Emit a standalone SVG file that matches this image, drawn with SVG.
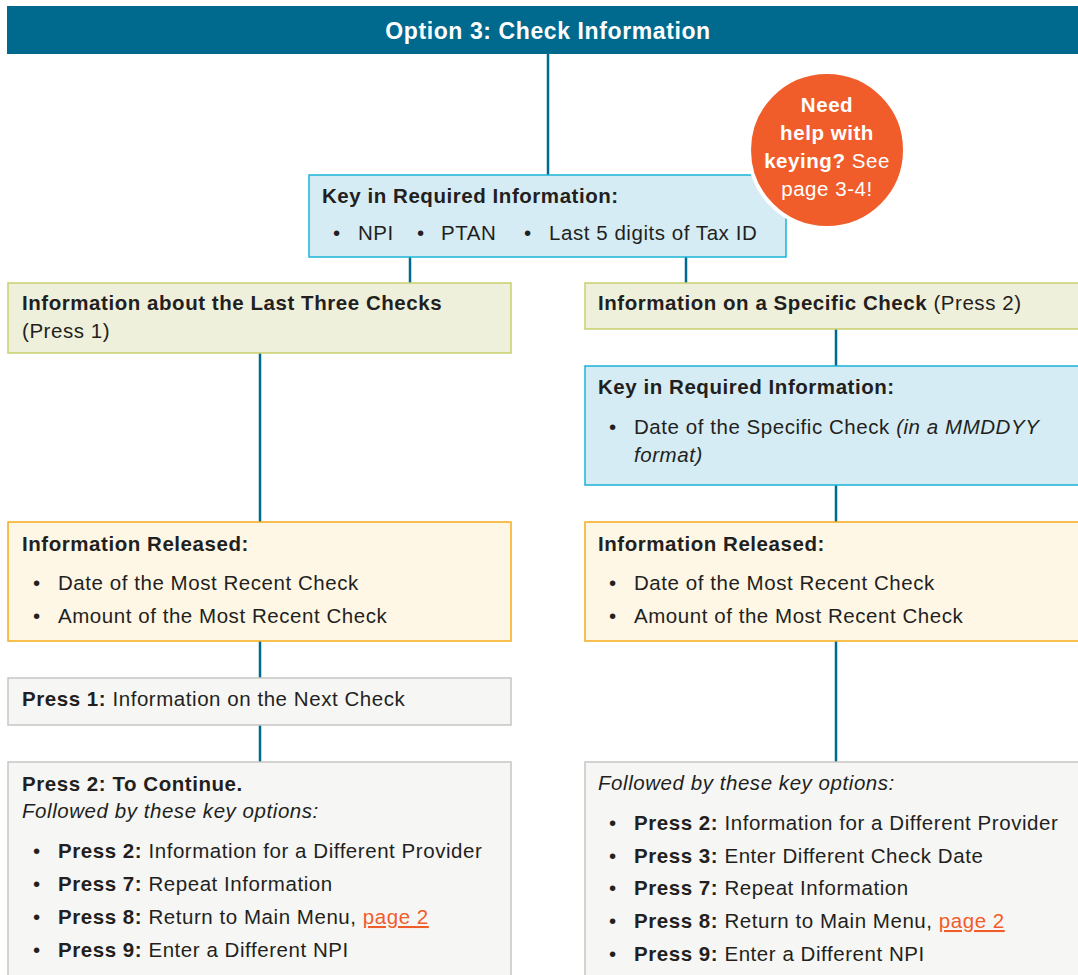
<svg xmlns="http://www.w3.org/2000/svg" width="1078" height="975" viewBox="0 0 1078 975">
<style>
text{font-family:"Liberation Sans",Arial,sans-serif;font-size:20.5px;letter-spacing:0.55px;fill:#231f20}
.b{font-weight:bold}
.i{font-style:italic}
.link{fill:#f15d2a;text-decoration:underline}
.conn{stroke:#006a8e;stroke-width:2.5;fill:none}
.blue{fill:#d5ecf4;stroke:#1ab4d6;stroke-width:1.5}
.olive{fill:#eff0dc;stroke:#c8cf6c;stroke-width:1.5}
.orange{fill:#fef7e6;stroke:#f5ac1e;stroke-width:1.5}
.grey{fill:#f6f6f4;stroke:#c8c6c4;stroke-width:1.5}
</style>
<rect width="1078" height="975" fill="#ffffff"/>
<g id="connectors">
<line class="conn" x1="548" y1="54" x2="548" y2="176"/>
<line class="conn" x1="410" y1="257" x2="410" y2="284"/>
<line class="conn" x1="686" y1="257" x2="686" y2="284"/>
<line class="conn" x1="260" y1="353" x2="260" y2="523"/>
<line class="conn" x1="836" y1="329" x2="836" y2="367"/>
<line class="conn" x1="836" y1="485" x2="836" y2="523"/>
<line class="conn" x1="260" y1="641" x2="260" y2="679"/>
<line class="conn" x1="260" y1="725" x2="260" y2="763"/>
<line class="conn" x1="836" y1="641" x2="836" y2="763"/>
</g>
<g id="header">
<rect x="7" y="6" width="1075" height="48" fill="#006a8e"/>
<text x="548" y="39" text-anchor="middle" class="b" style="fill:#ffffff;font-size:23px;letter-spacing:0.6px">Option 3: Check Information</text>
</g>
<g id="key-required">
<rect class="blue" x="309" y="175" width="477" height="82"/>
<text x="322" y="203" class="b">Key in Required Information:</text>
<text x="333" y="240">•</text><text x="358" y="240">NPI</text>
<text x="417" y="240">•</text><text x="441" y="240">PTAN</text>
<text x="524" y="240">•</text><text x="549" y="240">Last 5 digits of Tax ID</text>
</g>
<g id="help-badge">
<circle cx="827" cy="150" r="78" fill="#f15d2a" stroke="#ffffff" stroke-width="4"/>
<text x="827" y="112" text-anchor="middle" class="b" style="fill:#ffffff">Need</text>
<text x="827" y="140" text-anchor="middle" class="b" style="fill:#ffffff">help with</text>
<text x="827" y="168" text-anchor="middle" style="fill:#ffffff"><tspan class="b" style="fill:#ffffff">keying?</tspan> See</text>
<text x="827" y="196" text-anchor="middle" style="fill:#ffffff">page 3-4!</text>
</g>
<g id="last-three">
<rect class="olive" x="8" y="283" width="503" height="70"/>
<text x="22" y="310" class="b">Information about the Last Three Checks</text>
<text x="22" y="338">(Press 1)</text>
</g>
<g id="specific-check">
<rect class="olive" x="585" y="283" width="500" height="46"/>
<text x="598" y="310"><tspan class="b">Information on a Specific Check</tspan> (Press 2)</text>
</g>
<g id="key-date">
<rect class="blue" x="585" y="366" width="500" height="119"/>
<text x="598" y="394" class="b">Key in Required Information:</text>
<text x="609" y="434">•</text>
<text x="634" y="434">Date of the Specific Check <tspan class="i">(in a MMDDYY</tspan></text>
<text x="634" y="462" class="i">format)</text>
</g>
<g id="released-left">
<rect class="orange" x="8" y="522" width="503" height="119"/>
<text x="22" y="551" class="b">Information Released:</text>
<text x="33" y="590">•</text><text x="58" y="590">Date of the Most Recent Check</text>
<text x="33" y="623">•</text><text x="58" y="623">Amount of the Most Recent Check</text>
</g>
<g id="released-right">
<rect class="orange" x="585" y="522" width="500" height="119"/>
<text x="598" y="551" class="b">Information Released:</text>
<text x="609" y="590">•</text><text x="634" y="590">Date of the Most Recent Check</text>
<text x="609" y="623">•</text><text x="634" y="623">Amount of the Most Recent Check</text>
</g>
<g id="press1">
<rect class="grey" x="8" y="678" width="503" height="47"/>
<text x="22" y="706"><tspan class="b">Press 1:</tspan> Information on the Next Check</text>
</g>
<g id="options-left">
<rect class="grey" x="8" y="762" width="503" height="230"/>
<text x="22" y="791" class="b">Press 2: To Continue.</text>
<text x="22" y="818" class="i">Followed by these key options:</text>
<text x="33" y="858">•</text><text x="58" y="858"><tspan class="b">Press 2:</tspan> Information for a Different Provider</text>
<text x="33" y="891">•</text><text x="58" y="891"><tspan class="b">Press 7:</tspan> Repeat Information</text>
<text x="33" y="924">•</text><text x="58" y="924"><tspan class="b">Press 8:</tspan> Return to Main Menu, <tspan class="link">page 2</tspan></text>
<text x="33" y="957">•</text><text x="58" y="957"><tspan class="b">Press 9:</tspan> Enter a Different NPI</text>
</g>
<g id="options-right">
<rect class="grey" x="585" y="762" width="500" height="230"/>
<text x="598" y="790" class="i">Followed by these key options:</text>
<text x="609" y="830">•</text><text x="634" y="830"><tspan class="b">Press 2:</tspan> Information for a Different Provider</text>
<text x="609" y="863">•</text><text x="634" y="863"><tspan class="b">Press 3:</tspan> Enter Different Check Date</text>
<text x="609" y="895">•</text><text x="634" y="895"><tspan class="b">Press 7:</tspan> Repeat Information</text>
<text x="609" y="928">•</text><text x="634" y="928"><tspan class="b">Press 8:</tspan> Return to Main Menu, <tspan class="link">page 2</tspan></text>
<text x="609" y="961">•</text><text x="634" y="961"><tspan class="b">Press 9:</tspan> Enter a Different NPI</text>
</g>
</svg>
